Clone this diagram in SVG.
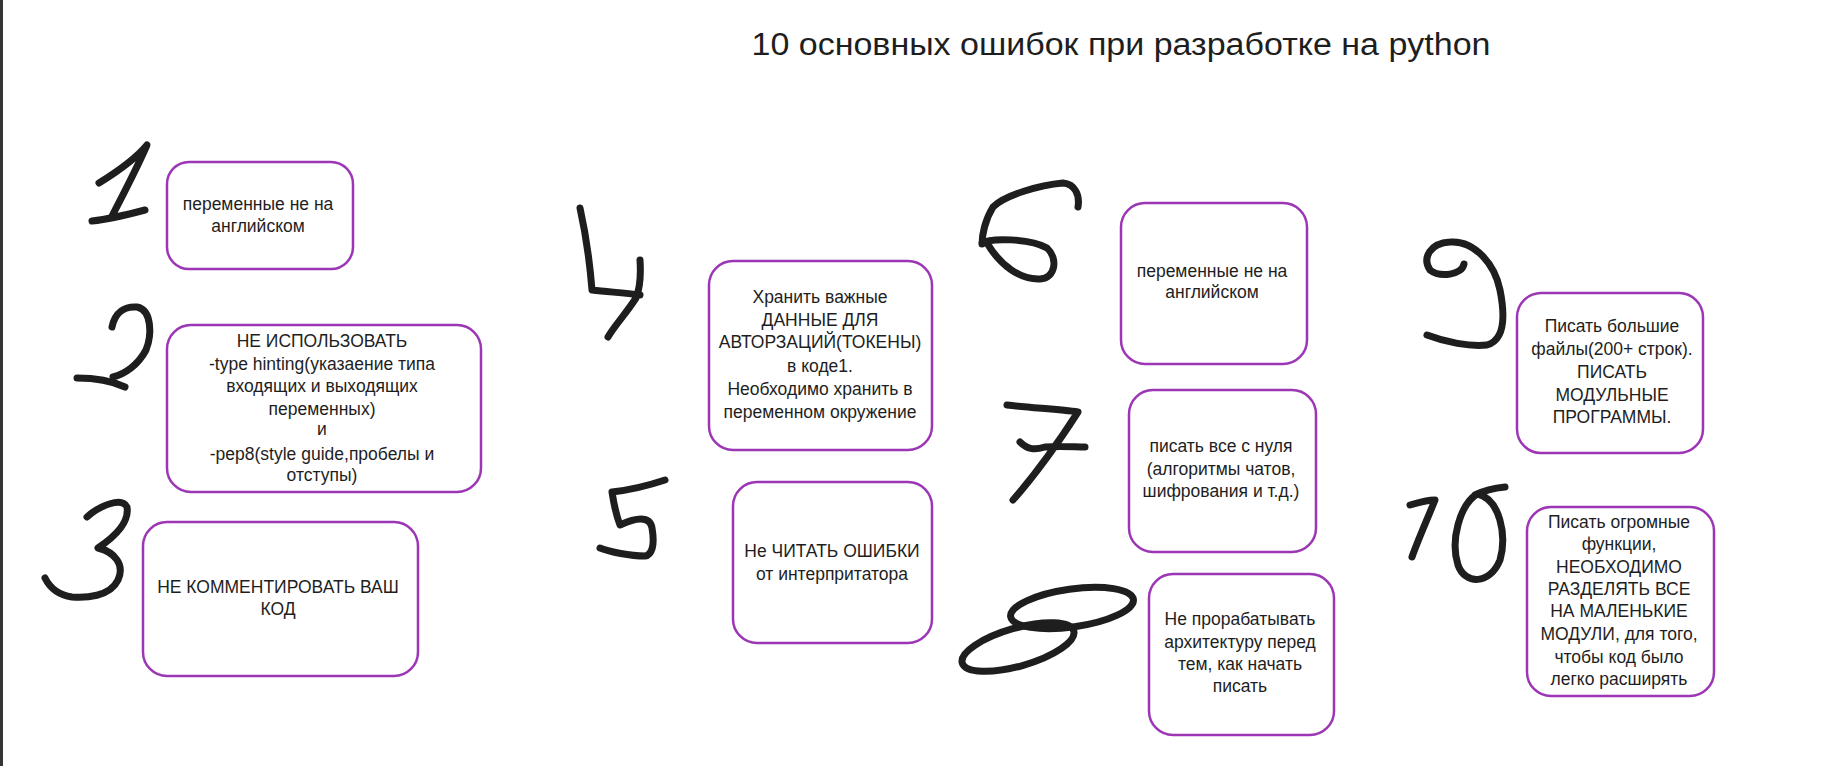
<svg xmlns="http://www.w3.org/2000/svg" width="1834" height="766" viewBox="0 0 1834 766">
<style>
.box{fill:#ffffff;stroke:#9c36b5;stroke-width:2.5}
.t{font-family:"Liberation Sans","DejaVu Sans",sans-serif;font-size:17.5px;fill:#1e1e1e;text-anchor:middle}
.title{font-family:"Liberation Sans","DejaVu Sans",sans-serif;font-size:31px;fill:#1e1e1e;text-anchor:middle}
.dg{fill:none;stroke:#1e1e1e;stroke-width:7;stroke-linecap:round;stroke-linejoin:round}
</style>
<rect x="0" y="0" width="1834" height="766" fill="#ffffff"/>
<rect x="0" y="0" width="3" height="766" fill="#353535"/>
<text class="title" x="1121" y="55" textLength="739" lengthAdjust="spacingAndGlyphs">10 основных ошибок при разработке на python</text>

<g id="digits">
<path id="d1" class="dg" d="M99,183 C120,170 138,156 147,145 C136,170 123,195 112,216 M92,221 C110,219 130,214 145,210"/>
<path id="d2" class="dg" d="M112,327 C115,312 125,306 137,307 C152,310 152,335 146,350 C138,365 125,374 113,377 M77,378 C95,378 112,381 125,387"/>
<path id="d3" class="dg" d="M87,517 C100,505 122,497 127,507 C130,525 110,540 98,548 C115,552 125,565 118,580 C110,597 85,598 72,597 C58,595 50,588 45,578"/>
<path id="d4" class="dg" d="M580,208 C586,235 590,265 592,290 C610,292 625,293 640,295 M640,260 C641,275 640,288 636,298 C625,315 615,325 608,337"/>
<path id="d5" class="dg" d="M665,480 C650,485 630,490 612,492 C614,505 616,515 620,525 C635,518 650,515 652,528 C655,545 652,555 645,556 C630,556 610,552 600,548"/>
<path id="d6" class="dg" d="M1078,207 C1080,195 1075,184 1063,183 C1040,185 1005,195 993,207 C985,220 982,235 982,244 M982,243 C990,238 1030,238 1047,248 C1058,258 1056,278 1040,279 C1020,280 1000,265 987,243"/>
<path id="d7" class="dg" d="M1007,405 C1030,408 1060,409 1078,412 C1060,440 1035,475 1013,500 M1020,442 C1028,450 1035,450 1045,447 C1060,446 1075,447 1085,447"/>
<g id="d8">
<ellipse class="dg" cx="1072" cy="608" rx="62" ry="19" transform="rotate(-8 1072 608)"/>
<ellipse class="dg" cx="1018" cy="647" rx="58" ry="19" transform="rotate(-16 1018 647)"/>
</g>
<path id="d9" class="dg" d="M1464,264 C1462,275 1440,278 1430,270 C1422,258 1430,243 1450,242 C1475,240 1495,265 1500,290 C1505,315 1505,340 1487,345 C1470,347 1445,342 1427,335"/>
<path id="d10" class="dg" d="M1410,505 C1420,502 1428,500 1435,500 C1427,520 1418,540 1412,557 M1475,495 C1485,490 1495,488 1505,487 M1477,494 C1460,505 1450,540 1458,565 C1465,585 1490,585 1500,560 C1507,535 1500,500 1478,494"/>
</g>

<g id="node1">
<rect class="box" x="167" y="162" width="186" height="107" rx="22"/>
<text class="t" x="258"><tspan x="258" y="210">переменные не на</tspan><tspan x="258" y="232">английском</tspan></text>
</g>
<g id="node2">
<rect class="box" x="167" y="325" width="314" height="167" rx="24"/>
<text class="t" x="322"><tspan x="322" y="347">НЕ ИСПОЛЬЗОВАТЬ</tspan><tspan x="322" y="370">-type hinting(указаение типа</tspan><tspan x="322" y="392">входящих и выходящих</tspan><tspan x="322" y="415">переменных)</tspan><tspan x="322" y="435">и</tspan><tspan x="322" y="460">-pep8(style guide,пробелы и</tspan><tspan x="322" y="481">отступы)</tspan></text>
</g>
<g id="node3">
<rect class="box" x="143" y="522" width="275" height="154" rx="24"/>
<text class="t" x="278"><tspan x="278" y="593">НЕ КОММЕНТИРОВАТЬ ВАШ</tspan><tspan x="278" y="615">КОД</tspan></text>
</g>
<g id="node4">
<rect class="box" x="709" y="261" width="223" height="189" rx="24"/>
<text class="t" x="820"><tspan x="820" y="303">Хранить важные</tspan><tspan x="820" y="326">ДАННЫЕ ДЛЯ</tspan><tspan x="820" y="348">АВТОРЗАЦИЙ(ТОКЕНЫ)</tspan><tspan x="820" y="372">в коде1.</tspan><tspan x="820" y="395">Необходимо хранить в</tspan><tspan x="820" y="418">переменном окружение</tspan></text>
</g>
<g id="node5">
<rect class="box" x="733" y="482" width="199" height="161" rx="24"/>
<text class="t" x="832"><tspan x="832" y="557">Не ЧИТАТЬ ОШИБКИ</tspan><tspan x="832" y="580">от интерпритатора</tspan></text>
</g>
<g id="node6">
<rect class="box" x="1121" y="203" width="186" height="161" rx="24"/>
<text class="t" x="1212"><tspan x="1212" y="277">переменные не на</tspan><tspan x="1212" y="298">английском</tspan></text>
</g>
<g id="node7">
<rect class="box" x="1129" y="390" width="187" height="162" rx="24"/>
<text class="t" x="1221"><tspan x="1221" y="452">писать все с нуля</tspan><tspan x="1221" y="475">(алгоритмы чатов,</tspan><tspan x="1221" y="497">шифрования и т.д.)</tspan></text>
</g>
<g id="node8">
<rect class="box" x="1149" y="574" width="185" height="161" rx="24"/>
<text class="t" x="1240"><tspan x="1240" y="625">Не прорабатывать</tspan><tspan x="1240" y="648">архитектуру перед</tspan><tspan x="1240" y="670">тем, как начать</tspan><tspan x="1240" y="692">писать</tspan></text>
</g>
<g id="node9">
<rect class="box" x="1517" y="293" width="186" height="160" rx="24"/>
<text class="t" x="1612"><tspan x="1612" y="332">Писать большие</tspan><tspan x="1612" y="355">файлы(200+ строк).</tspan><tspan x="1612" y="378">ПИСАТЬ</tspan><tspan x="1612" y="401">МОДУЛЬНЫЕ</tspan><tspan x="1612" y="423">ПРОГРАММЫ.</tspan></text>
</g>
<g id="node10">
<rect class="box" x="1527" y="507" width="187" height="189" rx="24"/>
<text class="t" x="1619"><tspan x="1619" y="528">Писать огромные</tspan><tspan x="1619" y="550">функции,</tspan><tspan x="1619" y="573">НЕОБХОДИМО</tspan><tspan x="1619" y="595">РАЗДЕЛЯТЬ ВСЕ</tspan><tspan x="1619" y="617">НА МАЛЕНЬКИЕ</tspan><tspan x="1619" y="640">МОДУЛИ, для того,</tspan><tspan x="1619" y="663">чтобы код было</tspan><tspan x="1619" y="685">легко расширять</tspan></text>
</g>
<g id="connectors"></g>
</svg>
